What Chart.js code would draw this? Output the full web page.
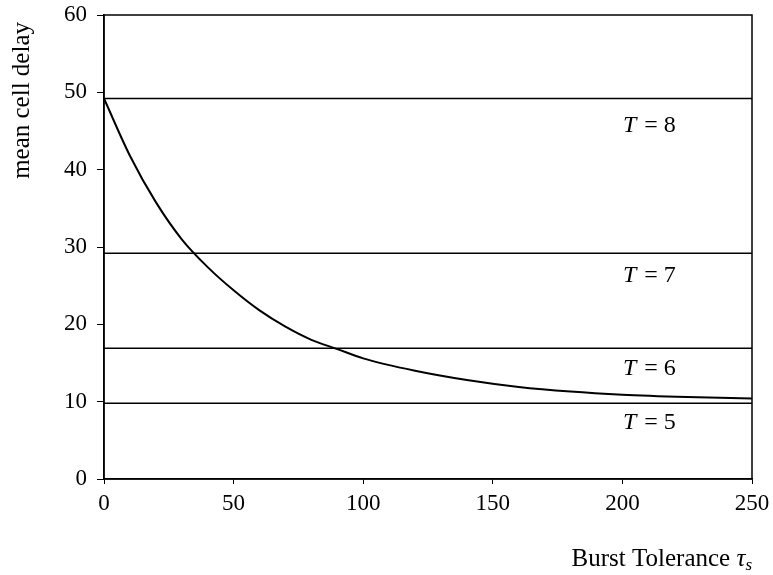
<!DOCTYPE html>
<html>
<head>
<meta charset="utf-8">
<script src="https://cdn.jsdelivr.net/npm/chart.js@4.4.1/dist/chart.umd.min.js"></script>
<style>
  html, body { margin: 0; padding: 0; background: #fff; }
  #wrap { width: 773px; height: 575px; }
</style>
</head>
<body>
<div id="wrap"><canvas id="delayChart"></canvas></div>
<script>
// burst tolerance vs mean cell delay
const burstTolerance = [0, 10, 20, 30, 40, 50, 60, 70, 80, 90, 100, 120, 140, 160, 180, 200, 225, 250];
const meanDelay = [49.2, 41.8, 35.8, 31.0, 27.4, 24.4, 21.8, 19.7, 18.0, 16.8, 15.6, 14.0, 12.8, 11.9, 11.3, 10.9, 10.6, 10.4];

// constant delay levels for each T
const levelNames = ['T = 8', 'T = 7', 'T = 6', 'T = 5'];
const levelValues = [49.2, 29.2, 16.9, 9.8];
const levelLabelY = [45.7, 26.3, 14.3, 7.3];
const levelLabelX = 210;

const xTicks = [0, 50, 100, 150, 200, 250];
const yTicks = [0, 10, 20, 30, 40, 50, 60];

const serif = '"Liberation Serif", "DejaVu Serif", serif';

const datasets = [{
    data: burstTolerance.map((x, i) => ({x: x, y: meanDelay[i]})),
    borderColor: '#000',
    borderWidth: 2,
    pointRadius: 0,
    cubicInterpolationMode: 'monotone',
    fill: false
}];
levelValues.forEach(v => {
    datasets.push({
        data: [{x: 0, y: v}, {x: 250, y: v}],
        borderColor: '#000',
        borderWidth: 1.5,
        pointRadius: 0,
        fill: false
    });
});

// no extra room for the end labels, layout padding decides
function noLabelPadding(axis) {
    axis.paddingTop = 0;
    axis.paddingBottom = 0;
    axis.paddingLeft = 0;
    axis.paddingRight = 0;
}

// frame round the plot area, T labels and axis titles
const decorations = {
    id: 'decorations',
    afterDatasetsDraw(chart) {
        const ctx = chart.ctx;
        const area = chart.chartArea;
        const xs = chart.scales.x, ys = chart.scales.y;
        ctx.save();
        ctx.strokeStyle = '#000';
        ctx.lineWidth = 1.5;
        ctx.strokeRect(area.left, area.top, area.right - area.left, area.bottom - area.top);

        ctx.fillStyle = '#000';
        ctx.textBaseline = 'middle';
        levelNames.forEach((name, i) => {
            const rest = name.slice(1);
            const cx = xs.getPixelForValue(levelLabelX);
            const cy = ys.getPixelForValue(levelLabelY[i]);
            ctx.font = 'italic 24px ' + serif;
            const wT = ctx.measureText('T').width;
            ctx.font = '24px ' + serif;
            const wRest = ctx.measureText(rest).width;
            const x0 = cx - (wT + wRest) / 2;
            ctx.textAlign = 'left';
            ctx.font = 'italic 24px ' + serif;
            ctx.fillText('T', x0, cy);
            ctx.font = '24px ' + serif;
            ctx.fillText(rest, x0 + wT + 2, cy);
        });

        // x axis title, right aligned under the plot
        ctx.textBaseline = 'alphabetic';
        ctx.textAlign = 'left';
        ctx.font = 'italic 17px ' + serif;
        const wS = ctx.measureText('s').width;
        ctx.font = 'italic 25px ' + serif;
        const wTau = ctx.measureText('τ').width;
        ctx.font = '25px ' + serif;
        const txt = 'Burst Tolerance ';
        const wTxt = ctx.measureText(txt).width;
        const baseY = 566;
        const x = area.right - wS - wTau - wTxt;
        ctx.fillText(txt, x, baseY);
        ctx.font = 'italic 25px ' + serif;
        ctx.fillText('τ', x + wTxt, baseY);
        ctx.font = 'italic 17px ' + serif;
        ctx.fillText('s', x + wTxt + wTau, baseY + 4);

        // y axis title, rotated, near the top
        ctx.translate(29, 22);
        ctx.rotate(-Math.PI / 2);
        ctx.font = '25px ' + serif;
        ctx.textAlign = 'right';
        ctx.fillText('mean cell delay', 0, 0);
        ctx.restore();
    }
};

new Chart(document.getElementById('delayChart'), {
    type: 'line',
    data: { datasets: datasets },
    options: {
        responsive: true,
        maintainAspectRatio: false,
        animation: false,
        layout: { padding: { top: 15, right: 21, left: 0, bottom: 0 } },
        plugins: {
            legend: { display: false },
            tooltip: { enabled: false }
        },
        scales: {
            x: {
                type: 'linear',
                min: 0,
                max: 250,
                afterBuildTicks: axis => { axis.ticks = xTicks.map(v => ({value: v})); },
                afterFit: axis => { axis.height = 96; noLabelPadding(axis); },
                grid: { drawOnChartArea: false, color: '#000', tickLength: 5 },
                border: { color: '#000', width: 1.5 },
                ticks: { color: '#000', font: { family: serif, size: 23 }, padding: 6, maxRotation: 0 }
            },
            y: {
                type: 'linear',
                min: 0,
                max: 60,
                afterBuildTicks: axis => { axis.ticks = yTicks.map(v => ({value: v})); },
                afterFit: axis => { axis.width = 104; noLabelPadding(axis); },
                grid: { drawOnChartArea: false, color: '#000', tickLength: 7 },
                border: { color: '#000', width: 1.5 },
                ticks: { color: '#000', font: { family: serif, size: 23 }, padding: 10 }
            }
        }
    },
    plugins: [decorations]
});
</script>
</body>
</html>
